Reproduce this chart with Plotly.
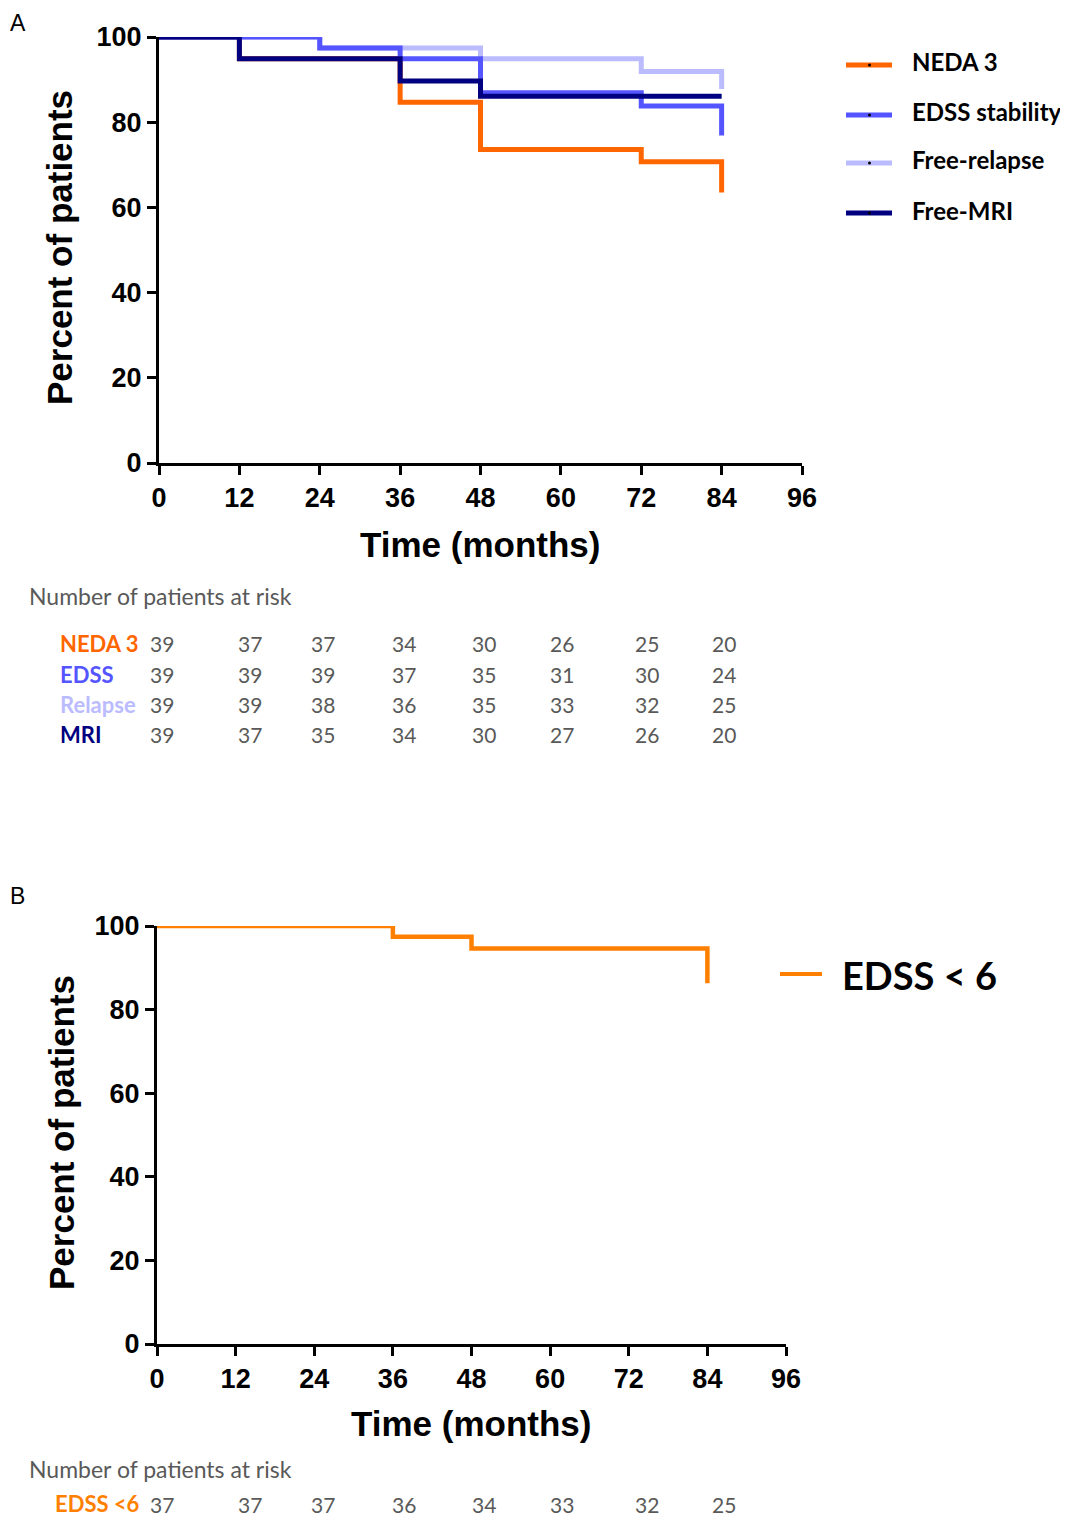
import plotly.graph_objects as go

# ---- data ----
# Panel A: Kaplan-Meier steps (time in months, percent of patients)
neda_t = [0, 12, 36, 48, 72, 84]
neda_y = [100, 94.9, 84.7, 73.6, 70.7, 63.5]
edss_t = [0, 24, 36, 48, 72, 84]
edss_y = [100, 97.4, 94.9, 86.9, 83.8, 76.9]
relapse_t = [0, 24, 48, 72, 84]
relapse_y = [100, 97.4, 94.9, 91.9, 87.8]
mri_t = [0, 12, 36, 48, 84]
mri_y = [100, 94.9, 89.7, 86.1, 86.1]

# Panel B
edss6_t = [0, 36, 48, 84]
edss6_y = [100, 97.4, 94.6, 86.3]

# numbers at risk
risk_labels_a = ["NEDA 3", "EDSS", "Relapse", "MRI"]
risk_neda = [39, 37, 37, 34, 30, 26, 25, 20]
risk_edss = [39, 39, 39, 37, 35, 31, 30, 24]
risk_relapse = [39, 39, 38, 36, 35, 33, 32, 25]
risk_mri = [39, 37, 35, 34, 30, 27, 26, 20]
risk_label_b = "EDSS <6"
risk_edss6 = [37, 37, 37, 36, 34, 33, 32, 25]

legend_a = ["NEDA 3", "EDSS stability", "Free-relapse", "Free-MRI"]
ticks_x = [0, 12, 24, 36, 48, 60, 72, 84, 96]
ticks_y = [0, 20, 40, 60, 80, 100]

# ---- styling ----
W, H = 1068, 1520
c_neda = "#FF6600"
c_edss = "#5555FF"
c_relapse = "#BBBBFF"
c_mri = "#000080"
c_b = "#FF8000"
gray = "#595959"
axfont = "Liberation Sans, Arial, sans-serif"
txtfont = "Lato, Open Sans, sans-serif"

# the page puts the plot 8px in from the top-left corner
OFF = 8


def px(x):
    return (x - OFF) / W


def py(y):
    return 1 - (y - OFF) / H


fig = go.Figure()

series_a = [
    (neda_t, neda_y, c_neda),
    (relapse_t, relapse_y, c_relapse),
    (edss_t, edss_y, c_edss),
    (mri_t, mri_y, c_mri),
]
for t, y, c in series_a:
    fig.add_trace(go.Scatter(x=t, y=y, mode="lines", line=dict(color=c, width=5, shape="hv"),
                             xaxis="x", yaxis="y", showlegend=False, hoverinfo="skip"))

fig.add_trace(go.Scatter(x=edss6_t, y=edss6_y, mode="lines", line=dict(color=c_b, width=4.5, shape="hv"),
                         xaxis="x2", yaxis="y2", showlegend=False, hoverinfo="skip"))

axis_style = dict(
    showline=True, linewidth=3, linecolor="black", showgrid=False, zeroline=False,
    ticks="outside", ticklen=9, tickwidth=3, tickcolor="black", automargin=False,
    tickfont=dict(family=axfont, size=27, color="black", weight="bold"),
)

fig.update_layout(
    width=W, height=H, autosize=False,
    margin=dict(l=0, r=0, t=0, b=0),
    paper_bgcolor="white", plot_bgcolor="white",
    xaxis=dict(domain=[px(159), px(802)], range=[0, 96], tickvals=ticks_x, anchor="y", **axis_style),
    yaxis=dict(domain=[py(463), py(37)], range=[0, 100], tickvals=ticks_y, anchor="x", **axis_style),
    xaxis2=dict(domain=[px(157), px(786)], range=[0, 96], tickvals=ticks_x, anchor="y2", **axis_style),
    yaxis2=dict(domain=[py(1344), py(926)], range=[0, 100], tickvals=ticks_y, anchor="x2", **axis_style),
)

ann = []
shapes = []

# panel letters
ann.append(dict(x=px(OFF), y=1, text="A", xanchor="left", yanchor="top",
                font=dict(family="Liberation Sans, Arial", size=23, color="black")))
ann.append(dict(x=px(OFF), y=py(896), text="B", xanchor="left", yanchor="middle",
                font=dict(family="Liberation Sans, Arial", size=23, color="black")))

# axis titles
title_font = dict(family=axfont, size=35, color="black", weight="bold")
ann.append(dict(x=px(59), y=py(248), text="Percent of patients", textangle=-90,
                xanchor="center", yanchor="middle", font=title_font))
ann.append(dict(x=px(480), y=py(544), text="Time (months)", xanchor="center", yanchor="middle", font=title_font))
ann.append(dict(x=px(61), y=py(1133), text="Percent of patients", textangle=-90,
                xanchor="center", yanchor="middle", font=title_font))
ann.append(dict(x=px(471), y=py(1423), text="Time (months)", xanchor="center", yanchor="middle", font=title_font))

# legend A
leg_colors = [c_neda, c_edss, c_relapse, c_mri]
leg_y = [65, 115, 163, 213]
for name, c, yy in zip(legend_a, leg_colors, leg_y):
    shapes.append(dict(type="line", xref="paper", yref="paper", x0=px(846), x1=px(892), y0=py(yy), y1=py(yy),
                       line=dict(color=c, width=5)))
    shapes.append(dict(type="circle", xref="paper", yref="paper", x0=px(868), x1=px(871),
                       y0=py(yy + 1.5), y1=py(yy - 1.5), fillcolor="black", line=dict(width=0)))
    ann.append(dict(x=px(910), y=py(yy - 3), text="<b>" + name + "</b>", xanchor="left", yanchor="middle",
                    font=dict(family=txtfont, size=24, color="black")))

# legend B
shapes.append(dict(type="line", xref="paper", yref="paper", x0=px(780), x1=px(822), y0=py(974), y1=py(974),
                   line=dict(color=c_b, width=4)))
ann.append(dict(x=px(840), y=py(975), text="<b>EDSS < 6</b>", xanchor="left", yanchor="middle",
                font=dict(family=txtfont, size=38, color="black")))

# risk tables
col_px = [162, 250, 323, 404, 484, 562, 647, 724]
tab_font = dict(family=txtfont, size=21, color=gray)
head_font = dict(family=txtfont, size=23, color=gray)
ann.append(dict(x=px(27), y=py(596), text="Number of patients at risk", xanchor="left", yanchor="middle",
                font=head_font))
rows_a = [risk_neda, risk_edss, risk_relapse, risk_mri]
row_y = [643, 674, 704, 735]
for lab, vals, c, yy in zip(risk_labels_a, rows_a, leg_colors, row_y):
    ann.append(dict(x=px(58), y=py(yy), text="<b>" + lab + "</b>", xanchor="left", yanchor="middle",
                    font=dict(family=txtfont, size=22, color=c)))
    for v, cx in zip(vals, col_px):
        ann.append(dict(x=px(cx), y=py(yy), text=str(v), xanchor="center", yanchor="middle", font=tab_font))

ann.append(dict(x=px(27), y=py(1469), text="Number of patients at risk", xanchor="left", yanchor="middle",
                font=head_font))
# keep the last row inside the visible window
yb = py(1519)
ann.append(dict(x=px(53), y=yb, text="<b>" + risk_label_b + "</b>", xanchor="left", yanchor="bottom",
                font=dict(family=txtfont, size=22, color=c_b)))
for v, cx in zip(risk_edss6, col_px):
    ann.append(dict(x=px(cx), y=yb, text=str(v), xanchor="center", yanchor="bottom", font=tab_font))

for a in ann:
    a.update(xref="paper", yref="paper", showarrow=False)

fig.update_layout(annotations=ann, shapes=shapes)

fig.write_html("out.html")
